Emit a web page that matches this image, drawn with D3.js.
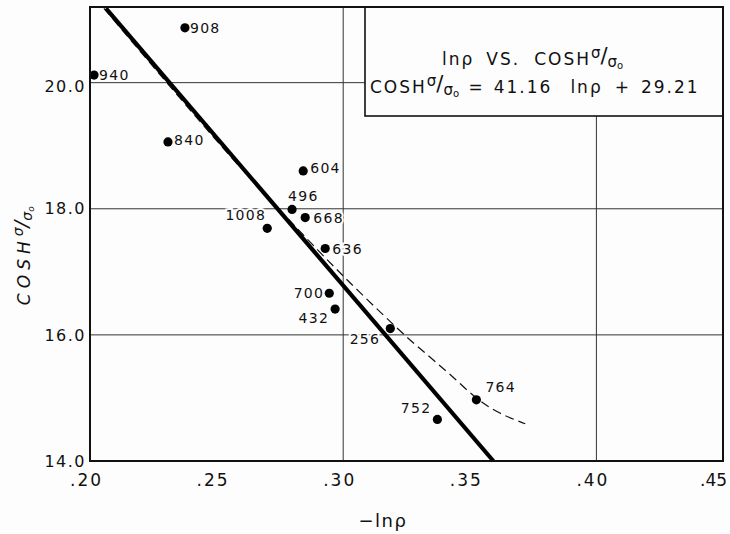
<!DOCTYPE html>
<html>
<head>
<meta charset="utf-8">
<script src="https://cdn.jsdelivr.net/npm/d3@7"></script>
<style>
  body { margin: 0; background: #fdfdfd; }
  svg { display: block; }
  text { font-family: "DejaVu Sans", sans-serif; fill: #111; }
</style>
</head>
<body>
<div id="chart"></div>
<script>
// data
const pointLabels = ["908", "940", "840", "604", "496", "668", "1008", "636", "700", "432", "256", "764", "752"];
const negLnP = [0.2375, 0.2016, 0.2308, 0.2842, 0.2798, 0.2850, 0.2700, 0.2929, 0.2945, 0.2968, 0.3186, 0.3526, 0.3372];
const coshVals = [20.87, 20.12, 19.06, 18.60, 17.99, 17.86, 17.69, 17.37, 16.66, 16.41, 16.10, 14.97, 14.66];

// straight fit, as drawn
const fitX = [0.2063, 0.3593];
const fitY = [21.18, 14.0];

// dashed curve
const curveX = [0.2055, 0.2553, 0.2901, 0.3067, 0.3253, 0.3348, 0.3431, 0.3526, 0.3609, 0.3719];
const curveY = [21.18, 18.84, 17.34, 16.67, 15.96, 15.63, 15.34, 15.00, 14.78, 14.59];

const xTicks = [0.20, 0.25, 0.30, 0.35, 0.40, 0.45];
const yTicks = [14, 16, 18, 20];
const xGrid = [0.30, 0.40];
const yGrid = [16, 18, 20];

// where each point label sits relative to its dot
const labelPlace = {
    "908": { anchor: "start", dx: 5, dy: 5 },
    "940": { anchor: "start", dx: 5, dy: 5 },
    "840": { anchor: "start", dx: 6, dy: 3 },
    "604": { anchor: "start", dx: 7, dy: 2 },
    "496": { anchor: "start", dx: -4, dy: -8 },
    "668": { anchor: "start", dx: 8, dy: 5 },
    "1008": { anchor: "end", dx: -1, dy: -8 },
    "636": { anchor: "start", dx: 7, dy: 5 },
    "700": { anchor: "end", dx: -5, dy: 5 },
    "432": { anchor: "end", dx: -6, dy: 14 },
    "256": { anchor: "end", dx: -10, dy: 15 },
    "764": { anchor: "start", dx: 9, dy: -8 },
    "752": { anchor: "end", dx: -6, dy: -6 }
};

const width = 730;
const height = 534;
const margin = { top: 7, right: 7, bottom: 73, left: 90 };

const svg = d3.select("#chart").append("svg")
    .attr("width", width)
    .attr("height", height);

const x = d3.scaleLinear()
    .domain([0.20, 0.45])
    .range([margin.left, width - margin.right]);

const y = d3.scaleLinear()
    .domain([14, 21.2])
    .range([height - margin.bottom, margin.top]);

// grid
svg.append("g")
    .selectAll("line.h")
    .data(yGrid)
    .enter()
    .append("line")
    .attr("x1", x(0.20))
    .attr("x2", x(0.45))
    .attr("y1", d => y(d))
    .attr("y2", d => y(d))
    .attr("stroke", "#333")
    .attr("stroke-width", 1);

svg.append("g")
    .selectAll("line.v")
    .data(xGrid)
    .enter()
    .append("line")
    .attr("x1", d => x(d))
    .attr("x2", d => x(d))
    .attr("y1", y(21.2))
    .attr("y2", y(14))
    .attr("stroke", "#333")
    .attr("stroke-width", 1);

// legend box (covers the grid behind it)
const box = svg.append("g");
box.append("rect")
    .attr("x", 365)
    .attr("y", y(21.2))
    .attr("width", x(0.45) - 365)
    .attr("height", 109)
    .attr("fill", "#fdfdfd")
    .attr("stroke", "#111")
    .attr("stroke-width", 1.6);

// sigma over sigma-nought, written as a slanted fraction
function addFraction(t, big, small) {
    t.append("tspan").attr("dy", -7).style("font-size", small + "px").style("letter-spacing", "0px").text("σ");
    t.append("tspan").attr("dy", 5).style("font-size", big + "px").style("letter-spacing", "0px").text("/");
    t.append("tspan").attr("dy", 4).style("font-size", small + "px").style("letter-spacing", "0px").text("σ");
    t.append("tspan").attr("dy", 2).style("font-size", (small - 5) + "px").text("o");
    t.append("tspan").attr("dy", -4).text("\u00a0");
}

const line1 = box.append("text")
    .attr("x", 442)
    .attr("y", 65)
    .style("font-size", "17px")
    .style("letter-spacing", "2px");
line1.append("tspan").text("lnρ");
line1.append("tspan").attr("dx", 12).text("VS.");
line1.append("tspan").attr("dx", 14).text("COSH");
addFraction(line1, 21, 15);

const line2 = box.append("text")
    .attr("x", 370)
    .attr("y", 93)
    .style("font-size", "17px")
    .style("letter-spacing", "2px");
line2.append("tspan").text("COSH");
addFraction(line2, 21, 15);
line2.append("tspan").text("=");
line2.append("tspan").attr("dx", 9).text("41.16");
line2.append("tspan").attr("dx", 18).text("lnρ");
line2.append("tspan").attr("dx", 12).text("+");
line2.append("tspan").attr("dx", 10).text("29.21");

// point labels, with a halo that breaks the grid lines like the original
svg.append("g")
    .selectAll("text.lbl")
    .data(pointLabels)
    .enter()
    .append("text")
    .attr("class", "lbl")
    .attr("x", (d, i) => x(negLnP[i]) + labelPlace[d].dx)
    .attr("y", (d, i) => y(coshVals[i]) + labelPlace[d].dy)
    .attr("text-anchor", d => labelPlace[d].anchor)
    .style("font-size", "14px")
    .style("letter-spacing", "1.3px")
    .style("stroke", "#fdfdfd")
    .style("stroke-width", 4)
    .style("paint-order", "stroke")
    .text(d => d);

// dashed curve
const curvePts = curveX.map((v, i) => [v, curveY[i]]);
svg.append("path")
    .datum(curvePts)
    .attr("fill", "none")
    .attr("stroke", "#111")
    .attr("stroke-width", 1.2)
    .attr("stroke-dasharray", "9,5")
    .attr("d", d3.line().x(d => x(d[0])).y(d => y(d[1])).curve(d3.curveCatmullRom));

// fit line
svg.append("path")
    .datum(fitX.map((v, i) => [v, fitY[i]]))
    .attr("fill", "none")
    .attr("stroke", "#000")
    .attr("stroke-width", 4.2)
    .attr("d", d3.line().x(d => x(d[0])).y(d => y(d[1])));

// points
svg.append("g")
    .selectAll("circle")
    .data(negLnP)
    .enter()
    .append("circle")
    .attr("cx", d => x(d))
    .attr("cy", (d, i) => y(coshVals[i]))
    .attr("r", 4.6)
    .attr("fill", "#000");

// frame
svg.append("rect")
    .attr("x", x(0.20))
    .attr("y", y(21.2))
    .attr("width", x(0.45) - x(0.20))
    .attr("height", y(14) - y(21.2))
    .attr("fill", "none")
    .attr("stroke", "#111")
    .attr("stroke-width", 2);

// axes
const xAxis = svg.append("g")
    .attr("transform", `translate(0,${y(14)})`)
    .call(d3.axisBottom(x)
        .tickValues(xTicks)
        .tickSize(0)
        .tickPadding(13)
        .tickFormat(d => d3.format(".2f")(d).replace(/^0/, "")));
xAxis.select(".domain").remove();
xAxis.selectAll("text")
    .attr("dx", (d, i) => i === xTicks.length - 1 ? -10 : -4)
    .style("font-family", "'DejaVu Sans', sans-serif")
    .style("font-size", "17px")
    .style("letter-spacing", (d, i) => i === xTicks.length - 1 ? "0px" : "2px")
    .style("fill", "#111");

const yAxis = svg.append("g")
    .attr("transform", `translate(${x(0.20)},0)`)
    .call(d3.axisLeft(y)
        .tickValues(yTicks)
        .tickSize(0)
        .tickPadding(4)
        .tickFormat(d3.format(".1f")));
yAxis.select(".domain").remove();
yAxis.selectAll("text")
    .attr("dy", d => d === 20 ? "0.55em" : "0.32em")
    .style("font-family", "'DejaVu Sans', sans-serif")
    .style("font-size", "16px")
    .style("letter-spacing", "1.5px")
    .style("fill", "#111");

// axis titles
svg.append("text")
    .attr("x", 383)
    .attr("y", 527)
    .attr("text-anchor", "middle")
    .style("font-size", "18px")
    .style("letter-spacing", "1.5px")
    .text("−lnρ");

const yTitle = svg.append("text")
    .attr("transform", "translate(30,248) rotate(-90)")
    .attr("text-anchor", "middle")
    .style("font-size", "17px")
    .style("font-style", "italic")
    .style("letter-spacing", "5px");
yTitle.append("tspan").text("COSH");
addFraction(yTitle, 20, 14);
</script>
</body>
</html>
